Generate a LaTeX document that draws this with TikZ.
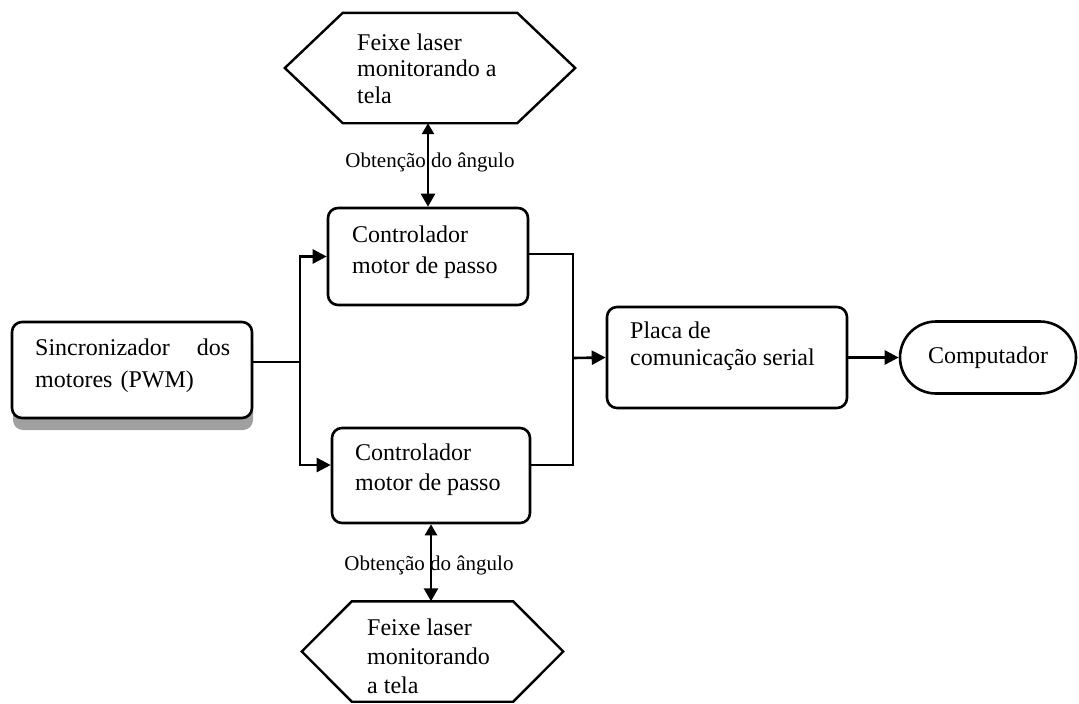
\documentclass[tikz,border=0pt]{standalone}
\usepackage{fontspec}
\setmainfont{Liberation Serif}
\usetikzlibrary{arrows.meta,shapes.misc,shadows,calc}
\begin{document}
\begin{tikzpicture}[x=1pt,y=-1pt,
 box/.style={draw, fill=white, line width=2.6pt, rounded corners=10pt, inner sep=0pt},
 hexline/.style={draw, line width=2.4pt, line join=miter},
 txt/.style={anchor=west, align=left, inner sep=0pt},
 conn/.style={line width=2.6pt},
 arr/.style={conn, -{Triangle[length=14pt,width=14pt]}},
 darr/.style={conn, {Triangle[length=11pt,width=12pt]}-{Triangle[length=13pt,width=14pt]}},
 lab/.style={font=\fontsize{21}{24}\selectfont, inner sep=0pt}]
\useasboundingbox (0,0) rectangle (1079,704);

% boxes
\node[box, minimum width=240pt, minimum height=96pt,
      drop shadow={shadow xshift=1pt, shadow yshift=-12pt, fill=black!50, opacity=.75}] (sinc) at (132,370) {};
\node[box, minimum width=200pt, minimum height=97pt] (ctlA) at (428,256.5) {};
\node[box, minimum width=198pt, minimum height=95pt] (ctlB) at (431,475.5) {};
\node[box, minimum width=240pt, minimum height=101pt] (placa) at (727,357.5) {};
\node[draw, line width=2.6pt, rounded rectangle, minimum width=176pt, minimum height=72pt,
      inner sep=0pt, font=\fontsize{24}{30}\selectfont] (comp) at (988,357.5) {Computador};

% hexagons
\node[minimum width=290pt, minimum height=110pt, inner sep=0pt] (hexT) at (430,68) {};
\draw[hexline] (hexT.west) -- ($(hexT.north west)+(58,0)$) -- ($(hexT.north east)+(-58,0)$)
  -- (hexT.east) -- ($(hexT.south east)+(-58,0)$) -- ($(hexT.south west)+(58,0)$) -- cycle;
\node[minimum width=261pt, minimum height=100pt, inner sep=0pt] (hexB) at (432.5,651.5) {};
\draw[hexline] (hexB.west) -- ($(hexB.north west)+(50,0)$) -- ($(hexB.north east)+(-50,0)$)
  -- (hexB.east) -- ($(hexB.south east)+(-50,0)$) -- ($(hexB.south west)+(50,0)$) -- cycle;

% texts
\node[txt, text width=195pt, font=\fontsize{24}{32}\selectfont] (tsinc) at (35,366) {Sincronizador\hfill dos\\motores (PWM)};
\node[txt, font=\fontsize{24}{31}\selectfont] (tctlA) at (352,252.5) {Controlador\\motor de passo};
\node[txt, font=\fontsize{24}{30}\selectfont] (tctlB) at (355,470) {Controlador\\motor de passo};
\node[txt, font=\fontsize{24}{27}\selectfont] (tplaca) at (630,346.5) {Placa de\\comunicação serial};
\node[txt, font=\fontsize{24}{26.5}\selectfont] (thexT) at (357,68.5) {Feixe laser\\monitorando a\\tela};
\node[txt, font=\fontsize{24}{29}\selectfont] (thexB) at (367,656) {Feixe laser\\monitorando\\a tela};

% labels
\node[lab] (labT) at (430,162) {Obtenção do ângulo};
\node[lab] (labB) at (429,565) {Obtenção do ângulo};

% connectors
\coordinate (j1) at (300,362);
\coordinate (j2) at (573,358);
\coordinate (inB) at (ctlB.west |- 0,465);
\coordinate (outA) at (ctlA.east |- 0,254);
\coordinate (outB) at (ctlB.east |- 0,465);
\draw[conn] (sinc.east |- j1) -- (j1);
\draw[arr] (j1) |- (ctlA.west);
\draw[arr] (j1) |- (inB);
\draw[conn] (outA) -| (j2);
\draw[conn] (outB) -| (j2);
\draw[arr] (j2) -- (placa.west);
\draw[arr] (placa.east) -- (comp.west);
\draw[darr] (ctlA.north |- hexT.south) -- (ctlA.north);
\draw[darr] (ctlB.south) -- (ctlB.south |- hexB.north);
\end{tikzpicture}
\end{document}
